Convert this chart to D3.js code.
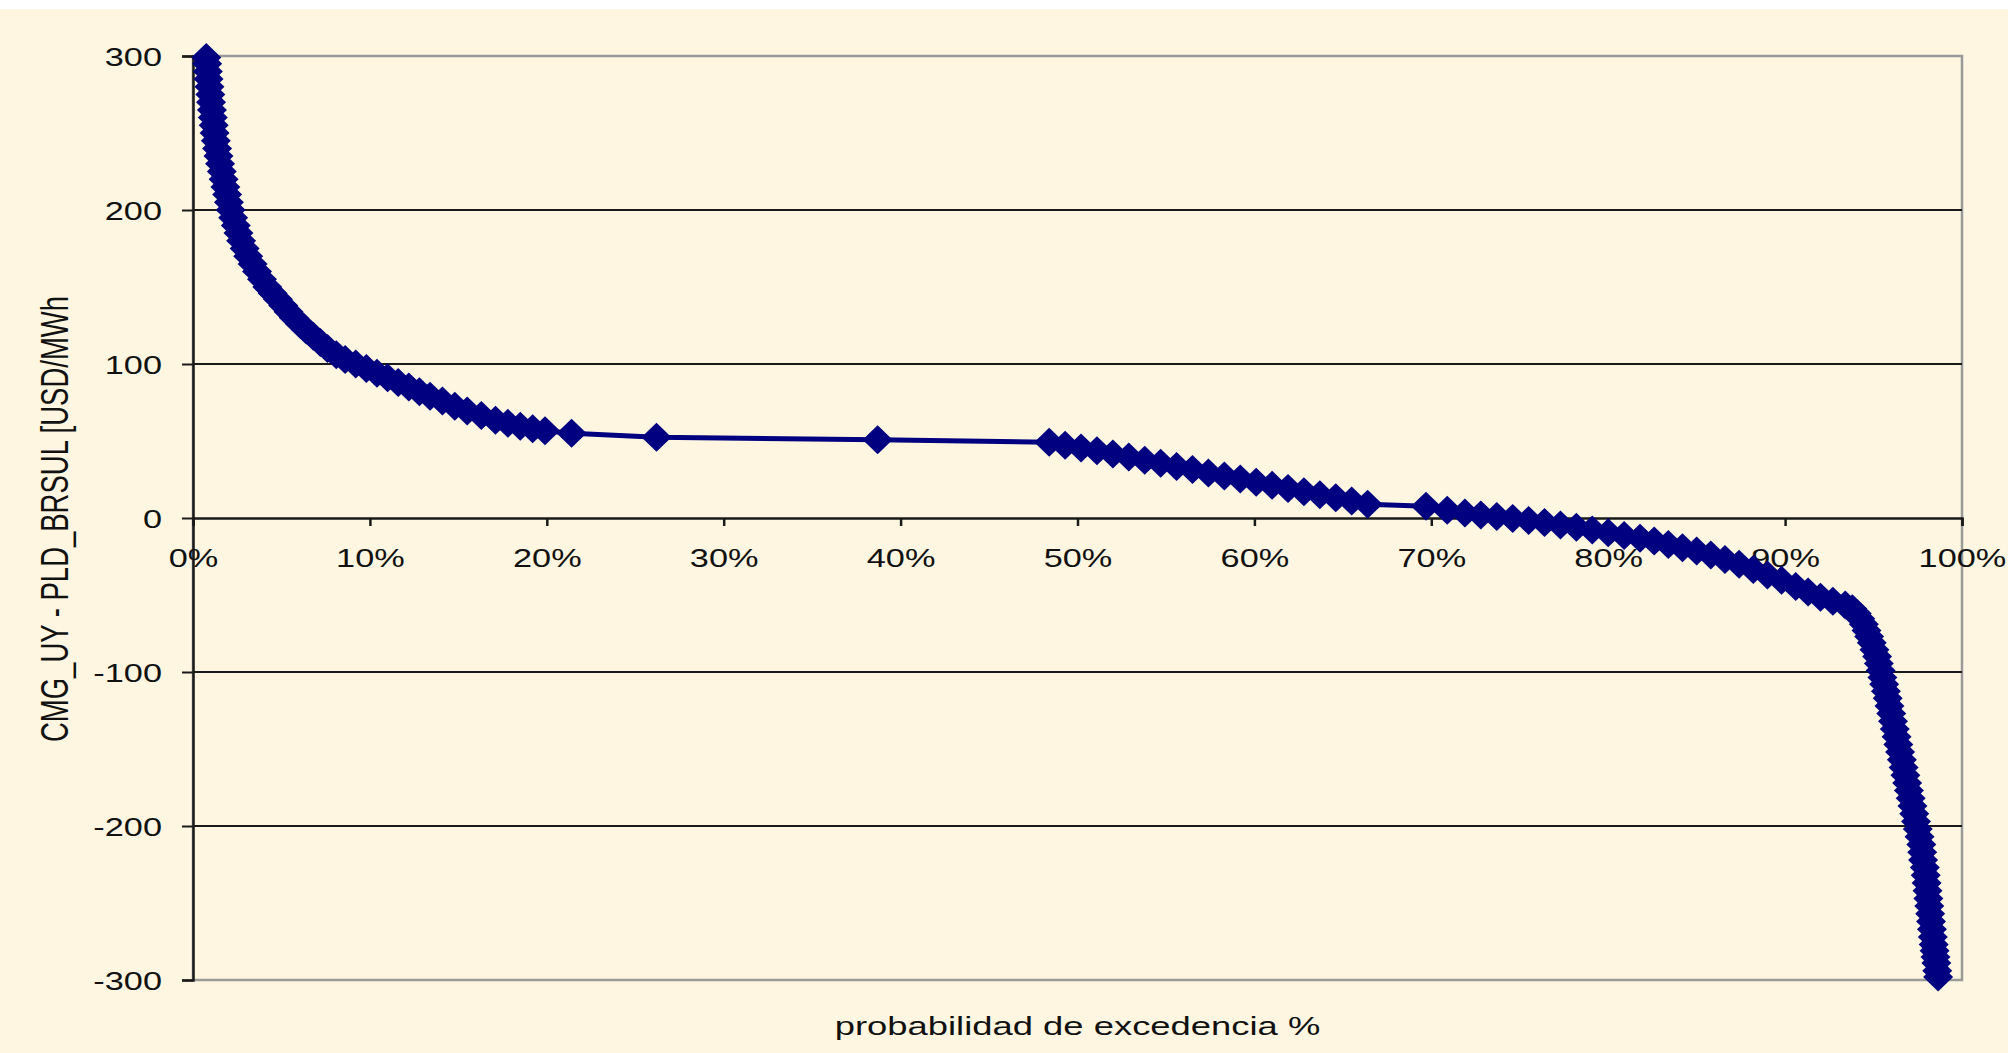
<!DOCTYPE html>
<html><head><meta charset="utf-8">
<script src="https://cdn.jsdelivr.net/npm/d3@7"></script>
<style>html,body{margin:0;padding:0;background:#fff;} svg{display:block;}</style>
</head><body>
<svg id="chart" width="2008" height="1053"></svg>
<script>
// exceedance probability (%) of each point
const probPct = [
  0.75,0.8,0.84,0.88,0.93,0.98,1.02,1.07,1.12,1.17,1.22,1.29,1.36,1.44,1.53,1.63,1.73,1.83,1.93,2.03,
  2.13,2.27,2.42,2.57,2.72,2.92,3.12,3.37,3.62,3.9,4.2,4.5,4.8,5.1,5.4,5.7,6.05,6.4,6.8,7.2,
  7.6,8.1,8.6,9.2,9.8,10.4,11.0,11.6,12.2,12.8,13.4,14.1,14.8,15.5,16.3,17.1,17.8,18.5,19.2,19.9,
  21.4,26.2,38.7,
  48.4,49.3,50.2,51.1,52.0,52.9,53.8,54.7,55.6,56.5,57.4,58.3,59.2,60.1,61.0,61.9,62.8,63.7,64.6,65.5,66.4,
  69.7,70.9,71.9,72.8,73.7,74.6,75.5,76.4,77.3,78.2,79.1,80.0,80.9,81.8,82.6,83.4,84.2,85.0,85.8,86.6,
  87.4,88.2,89.0,89.8,90.6,91.3,92.0,92.7,93.4,
  93.8,94.05,94.25,94.45,94.6,94.75,94.9,95.05,95.2,95.3,95.4,95.5,95.6,95.7,95.8,95.9,96.0,96.1,96.2,96.3,
  96.4,96.5,96.6,96.7,96.8,96.9,97.0,97.1,97.2,97.3,97.4,97.5,97.6,97.7,97.75,97.8,97.9,97.95,98.0,98.05,
  98.1,98.15,98.2,98.25,98.3,98.35,98.4,98.45,98.5,98.55,98.6,98.65
];
// CMG_UY - PLD_BRSUL [USD/MWh]
const values = [
  299,295,290,285,280,275,270,265,260,255,250,245,240,235,230,225,220,215,210,205,
  200,195,190,185,180,175,170,165,160,155,150,146,142,138,134,130,126,122,118,114,
  110,106,103,100,97,94,91,88,85,82,79,76,72.5,69.5,66.5,63.5,61.5,59.5,58,56.6,
  55,52.4,50.8,
  49.2,47.3,45.5,43.6,41.5,39.6,37.5,35.5,33.4,31.5,29.3,27.3,25.3,23.2,21.2,19.2,17.1,15.1,13.1,11.0,9.0,
  7.7,5.0,3.2,2.0,1.0,-0.3,-1.6,-3.0,-4.5,-6.0,-7.8,-9.5,-11.3,-13.2,-15.0,-17.2,-19.3,-21.5,-24,-27,
  -30,-33.5,-37,-40.5,-44.5,-48,-51.5,-54,-56.5,
  -59,-62,-65.5,-69,-73,-77,-81,-85.5,-90,-94.5,-99,-103.5,-108,-112.5,-117,-122,-127,-132,-137,-142,
  -147,-152,-157,-162,-167,-172,-177,-182,-187,-192,-197,-202,-207,-212,-217,-222,-227,-232,-237,-242,
  -247,-252,-257,-262,-267,-272,-277,-281,-285,-289,-294,-298
];
const yTicks = [-300,-200,-100,0,100,200,300];
const xTicks = [0,10,20,30,40,50,60,70,80,90,100];
const xTickLabels = ["0%","10%","20%","30%","40%","50%","60%","70%","80%","90%","100%"];
const yTitle = "CMG_UY - PLD_BRSUL [USD/MWh";
const xTitle = "probabilidad de excedencia %";

const W = 2008, H = 1053;
const M = {left:193, right:1962, top:56, bottom:980};
const BG = "#FEF6E0", NAVY = "#000080", FONT = "Arial, 'Liberation Sans', sans-serif";
const SX = 1.32;

const svg = d3.select("#chart");
svg.append("rect").attr("width",W).attr("height",H).attr("fill",BG);
svg.append("rect").attr("width",W).attr("height",9).attr("fill","#ffffff");

const x = d3.scaleLinear().domain([0,100]).range([M.left,M.right]);
const y = d3.scaleLinear().domain([-300,300]).range([M.bottom,M.top]);

// plot border
svg.append("rect").attr("x",M.left).attr("y",M.top)
  .attr("width",M.right-M.left).attr("height",M.bottom-M.top)
  .attr("fill","none").attr("stroke","#9a9a9a").attr("stroke-width",2.5);

// gridlines
svg.append("g").selectAll("line").data(yTicks.filter(t=>t!==0 && Math.abs(t)!==300)).join("line")
  .attr("x1",M.left).attr("x2",M.right).attr("y1",d=>y(d)).attr("y2",d=>y(d))
  .attr("stroke","#1a1a1a").attr("stroke-width",2);

// y axis
const yAxis = svg.append("g").attr("transform",`translate(${M.left},0)`)
  .call(d3.axisLeft(y).tickValues(yTicks).tickSize(11).tickFormat(d3.format("d")));
yAxis.select(".domain").attr("stroke","#1a1a1a").attr("stroke-width",2.5);
yAxis.selectAll(".tick line").attr("stroke","#1a1a1a").attr("stroke-width",2);
yAxis.selectAll(".tick text").remove();
yAxis.selectAll(".tick").append("text")
  .attr("transform",`translate(-31,9.5) scale(${SX},1)`)
  .attr("text-anchor","end").attr("fill","#111")
  .style("font-family",FONT).style("font-size","26px")
  .text(d=>d);

// x axis at zero
const xAxis = svg.append("g").attr("transform",`translate(0,${y(0)})`)
  .call(d3.axisBottom(x).tickValues(xTicks).tickSize(8).tickFormat((d,i)=>xTickLabels[i]));
xAxis.select(".domain").attr("stroke","#1a1a1a").attr("stroke-width",2.5);
xAxis.selectAll(".tick line").attr("stroke","#1a1a1a").attr("stroke-width",2.5);
xAxis.selectAll(".tick text").remove();
xAxis.selectAll(".tick").append("text")
  .attr("transform",`translate(0,49) scale(${SX},1)`)
  .attr("text-anchor","middle").attr("fill","#111")
  .style("font-family",FONT).style("font-size","26px")
  .text((d,i)=>xTickLabels[i]);

// series
const pts = probPct.map((p,i)=>({p, v: values[i]}));
svg.append("path").datum(pts)
  .attr("d", d3.line().x(d=>x(d.p)).y(d=>y(d.v)))
  .attr("fill","none").attr("stroke",NAVY).attr("stroke-width",5).attr("stroke-linejoin","round");
const diamond = "M0,-14.5L15,0L0,14.5L-15,0Z";
svg.append("g").selectAll("path").data(pts).join("path")
  .attr("d",diamond)
  .attr("transform",d=>`translate(${x(d.p)},${y(d.v)})`)
  .attr("fill",NAVY);

// titles
svg.append("text")
  .attr("transform",`translate(${(M.left+M.right)/2},1035) scale(1.4,1)`)
  .attr("text-anchor","middle").attr("fill","#111")
  .style("font-family",FONT).style("font-size","26px")
  .text(xTitle);
svg.append("text")
  .attr("transform",`translate(68,519) rotate(-90) scale(1,1.42)`)
  .attr("text-anchor","middle").attr("fill","#111")
  .style("font-family",FONT).style("font-size","27.5px")
  .text(yTitle);
</script>
</body></html>
